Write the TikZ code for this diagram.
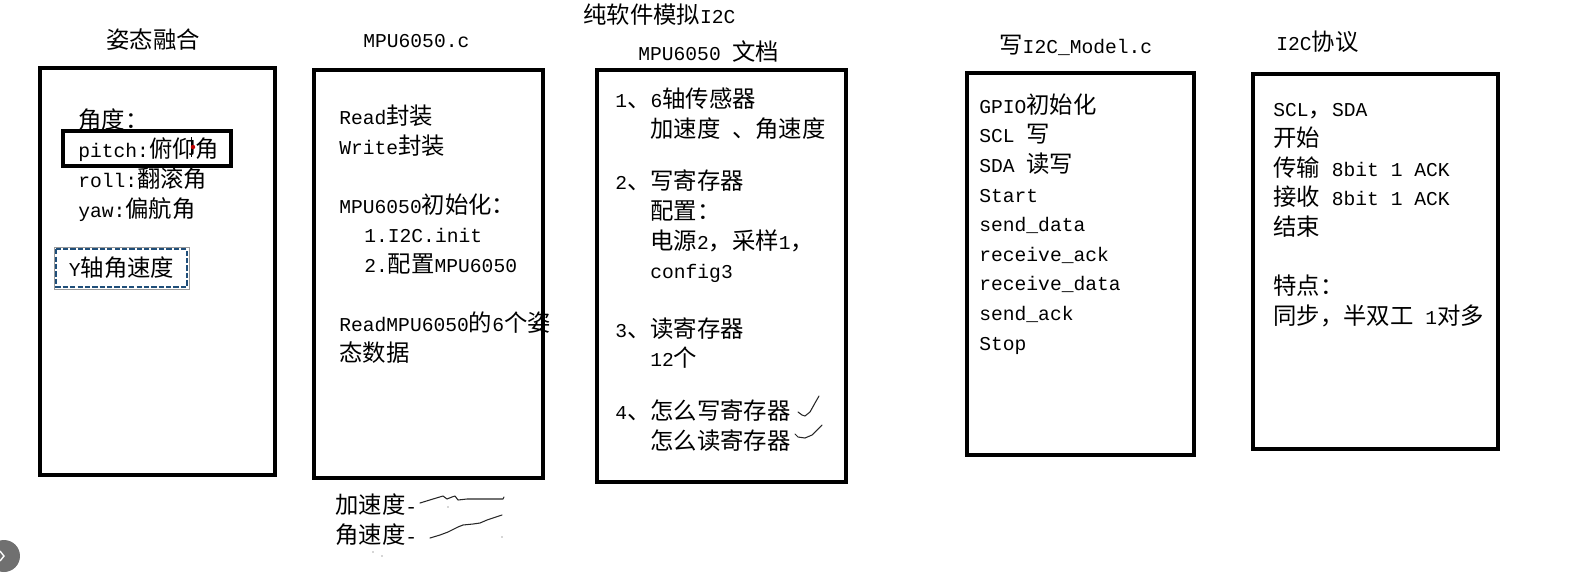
\documentclass[tikz,border=0pt]{standalone}
\usepackage{fontspec}
\setmainfont{Liberation Mono}[Scale=0.84]
\newfontfamily\latinfont{Liberation Mono}[Scale=0.84]
\newfontfamily\cjkfont{Noto Sans CJK SC}
% switch to the CJK face for Chinese characters and full-width punctuation
\XeTeXinterchartokenstate=1
\newXeTeXintercharclass\cjkclass
\count255="3000
\loop
  \XeTeXcharclass\count255=\cjkclass
  \ifnum\count255<"9FFF \advance\count255 by 1 \repeat
\count255="FF00
\loop
  \XeTeXcharclass\count255=\cjkclass
  \ifnum\count255<"FFEF \advance\count255 by 1 \repeat
\XeTeXinterchartoks 0 \cjkclass = {\cjkfont}
\XeTeXinterchartoks 4095 \cjkclass = {\cjkfont}
\XeTeXinterchartoks \cjkclass 0 = {\latinfont}
\XeTeXinterchartoks \cjkclass 4095 = {\latinfont}
\usepackage{tikz}
\usetikzlibrary{positioning}
\definecolor{ink}      {HTML}{000000}
\definecolor{uigray}   {HTML}{707070}
\definecolor{cursorred}{HTML}{C00000}
\definecolor{selblue}  {HTML}{1F4E79}
\newcommand\bodyfont{\fontsize{13.3pt}{16.84pt}\selectfont}
\tikzset{
  every node/.style={font=\bodyfont},
  % --- nodes
  panel/.style   = {draw=ink, line width=0.07cm, inner sep=0pt},
  heading/.style = {anchor=base west, inner sep=0pt, text=ink},
  body/.style    = {anchor=base west, inner sep=0pt, align=left, text=ink}, % base = last line
  hilite/.style  = {draw=ink, line width=0.07cm, inner sep=0pt},
  selbox/.style  = {draw=black!40, line width=0.4pt, inner sep=0pt},
  % --- strokes
  seldash/.style = {draw=selblue, line width=0.045cm, dash pattern=on 3pt off 1.2pt},
  scrawl/.style  = {draw=ink!85, line width=0.6pt, line cap=round, line join=round},
}
\begin{document}
\begin{tikzpicture}[x=0.02cm,y=-0.02cm]
  \useasboundingbox (0,0) rectangle (1570,586);

  % titles
  \node[heading] (fusiontitle)   at (106,48)   {姿态融合};
  \node[heading] (drivertitle)   at (363,47)   {MPU6050.c};
  \node[heading] (softtitle)     at (583,23)   {纯软件模拟I2C};
  \node[heading] (doctitle)      at (638,60)   {MPU6050 文档};
  \node[heading] (modeltitle)    at (999,53)   {写I2C\_Model.c};
  \node[heading] (protocoltitle) at (1276,50)  {I2C协议};

  % panels
  \node[panel, minimum width=4.70cm, minimum height=8.14cm] (fusion)   at (157.5,271.5) {};
  \node[panel, minimum width=4.58cm, minimum height=8.16cm] (driver)   at (428.5,274)   {};
  \node[panel, minimum width=4.98cm, minimum height=8.24cm] (doc)      at (721.5,276)   {};
  \node[panel, minimum width=4.54cm, minimum height=7.64cm] (model)    at (1080.5,264)  {};
  \node[panel, minimum width=4.90cm, minimum height=7.50cm] (protocol) at (1375.5,261.5) {};

  % fusion panel
  \node[hilite, minimum width=3.36cm, minimum height=0.70cm] (pitchframe) at (147,148.5) {};
  \node[body] (fusiontxt) at (78,217) {角度：\\pitch:俯仰角\\roll:翻滚角\\yaw:偏航角};
  \draw[ink, line width=0.4pt] (191,137) -- (191,157);
  \fill[cursorred] (193,147) circle[radius=0.045cm];
  \node[selbox, minimum width=2.70cm, minimum height=0.84cm] (gyro) at (121.5,268) {Y轴角速度};
  \draw[seldash] ([shift={(2.5,2.5)}]gyro.north west) rectangle ([shift={(-2.5,-2.5)}]gyro.south east);

  % driver panel
  \node[body] (drivertxt) at (339,361) {Read封装\\Write封装\\[16.8pt]MPU6050初始化：\\
    \hspace*{0.5cm}1.I2C.init\\\hspace*{0.5cm}2.配置MPU6050\\[16.8pt]ReadMPU6050的6个姿\\态数据};
  \node[body] (rawtxt) at (335,543) {加速度-\\角速度-};
  \draw[scrawl] (420,503) -- (433,499) -- (443,496) -- (447,499) -- (452,497) -- (455,496)
    -- (458,500) -- (467,499) -- (477,499) -- (493,499) -- (503,499) -- (504,497);
  \draw[scrawl] (430,538) -- (440,535) -- (448,532) -- (458,527) -- (463,525) -- (473,524)
    -- (480,523) -- (487,520) -- (493,518) -- (502,515);
  \foreach \p in {(448,507),(373,552),(382,556),(502,537)}
    \fill[ink!70] \p circle[radius=0.012cm];

  % doc panel
  \node[body] (doctxt) at (615,449) {1、6轴传感器\\\hspace*{0.7cm}加速度 、角速度\\[13pt]
    2、写寄存器\\\hspace*{0.7cm}配置：\\\hspace*{0.7cm}电源2，采样1，\\\hspace*{0.7cm}config3\\[16.6pt]
    3、读寄存器\\\hspace*{0.7cm}12个\\[13pt]
    4、怎么写寄存器\\\hspace*{0.7cm}怎么读寄存器};
  \draw[scrawl] (798,412) -- (802,415) -- (805,416) -- (810,412) -- (815,403) -- (819,396);
  \draw[scrawl] (795,434) -- (798,437) -- (805,438) -- (812,435) -- (817,430) -- (822,425);

  % model panel
  \node[body] (modeltxt) at (979,350) {GPIO初始化\\SCL 写\\SDA 读写\\Start\\send\_data\\
    receive\_ack\\receive\_data\\send\_ack\\Stop};

  % protocol panel
  \node[body] (protocoltxt) at (1273,324) {SCL，SDA\\开始\\传输 8bit 1 ACK\\接收 8bit 1 ACK\\结束\\[16.8pt]
    特点：\\同步，半双工 1对多};

  % side handle
  \fill[uigray] (4,556) circle[radius=0.32cm];
  \draw[white, line width=0.8pt] (0,551) -- (4,556) -- (0,561);
\end{tikzpicture}
\end{document}
